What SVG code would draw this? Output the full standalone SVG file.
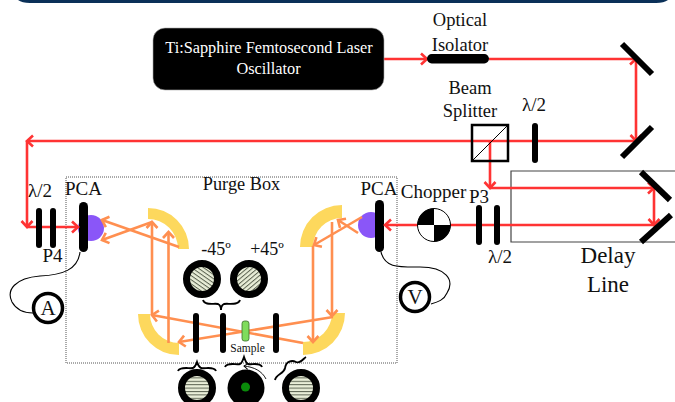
<svg xmlns="http://www.w3.org/2000/svg" width="675" height="402" viewBox="0 0 675 402">
<style>
text{font-family:"Liberation Serif","Times New Roman",serif;fill:#111;text-anchor:middle}
.f16{font-size:18.500px}.f15{font-size:18.300px}.f17{font-size:19px}
.plate{fill:#000}
.red{fill:none;stroke:#ff3333;stroke-width:2.6}
.or{fill:none;stroke:#ff8f50;stroke-width:2.6}
.ra{marker-end:url(#ar)}.oa{marker-end:url(#ao)}
.par{fill:#fdd85d}
.mir{stroke:#000;stroke-width:6;fill:none}
.wire{fill:none;stroke:#000;stroke-width:1.1}
.brace{fill:none;stroke:#000;stroke-width:1.9}
.ring{stroke:#000;stroke-width:7}
.pca{fill:#8a56f8}
</style>
<defs>
<marker id="ar" markerUnits="userSpaceOnUse" markerWidth="14" markerHeight="14" refX="10" refY="7" orient="auto"><path d="M4,1.5 L10,7 L4,12.5" fill="none" stroke="#ff3333" stroke-width="2.6"/></marker>
<marker id="ao" markerUnits="userSpaceOnUse" markerWidth="14" markerHeight="14" refX="10" refY="7" orient="auto"><path d="M4,1.5 L10,7 L4,12.5" fill="none" stroke="#ff8f50" stroke-width="2.6"/></marker>
<marker id="ak" markerUnits="userSpaceOnUse" markerWidth="8" markerHeight="8" refX="5" refY="4" orient="auto"><path d="M1,1 L5,4 L1,7" fill="none" stroke="#000" stroke-width="1"/></marker>
<pattern id="hH" patternUnits="userSpaceOnUse" width="4" height="3.4"><rect width="4" height="3.4" fill="#e9eed8"/><rect width="4" height="1" fill="#5a6150"/></pattern>
<pattern id="hA" patternUnits="userSpaceOnUse" width="4" height="3.4" patternTransform="rotate(35)"><rect width="4" height="3.4" fill="#e9eed8"/><rect width="4" height="1" fill="#5a6150"/></pattern>
<pattern id="hB" patternUnits="userSpaceOnUse" width="4" height="3.4" patternTransform="rotate(-40)"><rect width="4" height="3.4" fill="#e9eed8"/><rect width="4" height="1" fill="#5a6150"/></pattern>
</defs>
<rect width="675" height="402" fill="#fff"/>
<path id="top-bar" d="M18,0 H668 Q664,3 656,3 H30 Q22,3 18,0 Z" fill="#0a3058"/>
<g id="purge-box"><rect x="66" y="177" width="331" height="186" fill="none" stroke="#555" stroke-width="1" stroke-dasharray="1 1"/><text class="f15" x="241.500" y="190">Purge Box</text></g>
<g id="delay-line"><path d="M675,171 H511 V242 H675" fill="none" stroke="#444" stroke-width="1.2"/><text style="font-size:23px" x="608" y="263">Delay</text><text style="font-size:23px" x="608" y="292">Line</text></g>
<g id="parabolic-mirrors">
<path class="par" d="M148,208 A41,41 0 0 1 189,249 L178,249 A30,30 0 0 0 148,219 Z"/>
<path class="par" d="M138,314 A41,41 0 0 0 179,355 L179,343 A29,29 0 0 1 150,314 Z"/>
<path class="par" d="M342,205 A42,42 0 0 0 300,247 L313,247 A29,29 0 0 1 342,218 Z"/>
<path class="par" d="M345,313 A42,42 0 0 1 303,355 L303,342 A29,29 0 0 0 332,313 Z"/>
</g>
<g id="pca-left"><circle class="pca" cx="91" cy="228" r="13"/><rect class="plate" x="79" y="202" width="9" height="50" rx="4.500"/><text class="f17" x="83.500" y="195">PCA</text></g>
<g id="pca-right"><circle class="pca" cx="371" cy="225" r="13"/><rect class="plate" x="375" y="200" width="9" height="52" rx="4.500"/><text class="f17" x="379" y="195">PCA</text></g>
<g id="connectors">
<path class="red ra" d="M384,59 H427"/>
<path class="red ra" d="M489,59 H636"/>
<path class="red ra" d="M636,59 V141"/>
<path class="red ra" d="M636,141 H27"/>
<path class="red ra" d="M27,141 V227"/>
<path class="red ra" d="M27,227 H78"/>
<path class="red ra" d="M490,141 V188"/>
<path class="red ra" d="M490,188 H654"/>
<path class="red ra" d="M654,188 V225"/>
<path class="red ra" d="M654,225 H385"/>
<path class="or oa" d="M179,247 L102,220"/>
<path class="or oa" d="M152,222 L102,240"/>
<path class="or oa" d="M152,315 V222"/>
<path class="or oa" d="M168.500,343 V232"/>
<path class="or oa" d="M303,343 L152,315"/>
<path class="or oa" d="M333,317 L179,342"/>
<path class="or oa" d="M362,217 L314,245"/>
<path class="or oa" d="M358,233 L338,220"/>
<path class="or oa" d="M313,246 V342"/>
<path class="or oa" d="M332,222 V316"/>
<path class="wire" d="M80,252 C78,270 62,275 40,276 C15,278 6,290 12,302 C17,311 25,313 33,313"/>
<path class="wire" d="M381,252 C385,268 398,267 420,267 C446,267 455,280 447,293 C444,300 438,302 431,304"/>
</g>
<g id="laser"><rect x="153" y="28" width="231" height="62" rx="12" fill="#000" stroke="#aaa" stroke-width=".6"/><text style="font-size:16.300px;fill:#fff" x="269" y="53">Ti:Sapphire Femtosecond Laser</text><text style="font-size:16.300px;fill:#fff" x="268.500" y="74">Oscillator</text></g>
<g id="isolator"><rect class="plate" x="427" y="54" width="62" height="9.500" rx="4.700"/><text class="f16" x="460" y="26">Optical</text><text class="f16" x="460" y="51">Isolator</text></g>
<g id="mirror-1"><path class="mir" d="M622,44 L652,74"/></g>
<g id="mirror-2"><path class="mir" d="M652,127 L622,157"/></g>
<g id="mirror-3"><path class="mir" d="M641,172 L670,200"/></g>
<g id="mirror-4"><path class="mir" d="M671,215 L641,242"/></g>
<g id="beam-splitter"><rect x="472" y="125" width="36" height="36" fill="none" stroke="#000" stroke-width="2.500"/><path d="M472,161 L508,125" stroke="#000" stroke-width="1"/><text class="f16" x="470" y="94">Beam</text><text class="f16" x="470" y="117">Splitter</text></g>
<g id="hwp-top"><rect class="plate" x="532" y="123" width="6" height="40" rx="3"/><text class="f17" x="534" y="111">λ/2</text></g>
<g id="hwp-left"><rect class="plate" x="36" y="208" width="6" height="40" rx="3"/><rect class="plate" x="50" y="208" width="6" height="40" rx="3"/><text class="f17" x="40" y="197">λ/2</text><text class="f17" x="52.500" y="262">P4</text></g>
<g id="hwp-right"><rect class="plate" x="476" y="205" width="6" height="40" rx="3"/><rect class="plate" x="494" y="205" width="6" height="40" rx="3"/><text class="f17" x="479" y="203">P3</text><text class="f17" x="500" y="263">λ/2</text></g>
<g id="chopper"><circle cx="434" cy="225" r="16.500" fill="#fff" stroke="#000"/><path d="M434,225 V208.500 A16.500,16.500 0 0 0 417.500,225 Z M434,225 V241.500 A16.500,16.500 0 0 0 450.500,225 Z" fill="#000"/><text class="f17" x="433.500" y="198">Chopper</text></g>
<g id="ammeter"><circle cx="48" cy="308" r="14.500" fill="#fff" stroke="#000" stroke-width="3.500"/><text style="font-size:21px" x="48" y="315">A</text></g>
<g id="voltmeter"><circle cx="415" cy="297" r="14.500" fill="#fff" stroke="#000" stroke-width="3.500"/><text style="font-size:21px" x="415" y="304">V</text></g>
<g id="polarizers">
<rect class="plate" x="193" y="313" width="6" height="40" rx="3"/>
<rect class="plate" x="220" y="313" width="6" height="40" rx="3"/>
<rect class="plate" x="273" y="313" width="6" height="40" rx="3"/>
</g>
<g id="sample"><rect x="242" y="321" width="7" height="20" rx="2.500" fill="#7fdc5c" stroke="#3a6b2a" stroke-width=".8"/><text style="font-size:11.500px" x="247.500" y="352">Sample</text></g>
<g id="pol-minus45"><circle class="ring" cx="202" cy="279" r="15.500" fill="url(#hA)"/><text style="font-size:18px" x="216" y="255">-45º</text></g>
<g id="pol-plus45"><circle class="ring" cx="249" cy="279" r="15.500" fill="url(#hB)"/><text style="font-size:18px" x="267" y="255">+45º</text></g>
<g id="pol-b1"><circle class="ring" cx="197" cy="388" r="15.500" fill="url(#hH)"/></g>
<g id="pol-b2"><circle cx="246" cy="388" r="18.500" fill="#000"/><circle cx="245.500" cy="387" r="4.500" fill="#0a8a0a"/><path d="M266,379 C262,371 254,367 244,366" fill="none" stroke="#000" stroke-width=".9" marker-end="url(#ak)"/></g>
<g id="pol-b3"><circle class="ring" cx="301" cy="388" r="15.500" fill="url(#hH)"/></g>
<g id="braces">
<path class="brace" d="M203,300 C205,306 214,303 218,304 C220,305 221,307 221,310 C221,307 222,305 224,304 C228,303 238,306 240,300"/>
<path class="brace" d="M178,371 C180,366 190,369 193,368 C195,367 196,365 197,362 C198,365 199,367 201,368 C205,369 214,366 216,371"/>
<path class="brace" d="M225,367 C227,362 236,365 240,364 C242,363 243,360 244,357 C245,360 246,363 248,364 C252,365 260,362 262,367"/>
<path class="brace" d="M275,380 C276,374 284,374 285,368 C286,361 292,360 296,362 C300,364 304,358 306,357"/>
</g>
</svg>
